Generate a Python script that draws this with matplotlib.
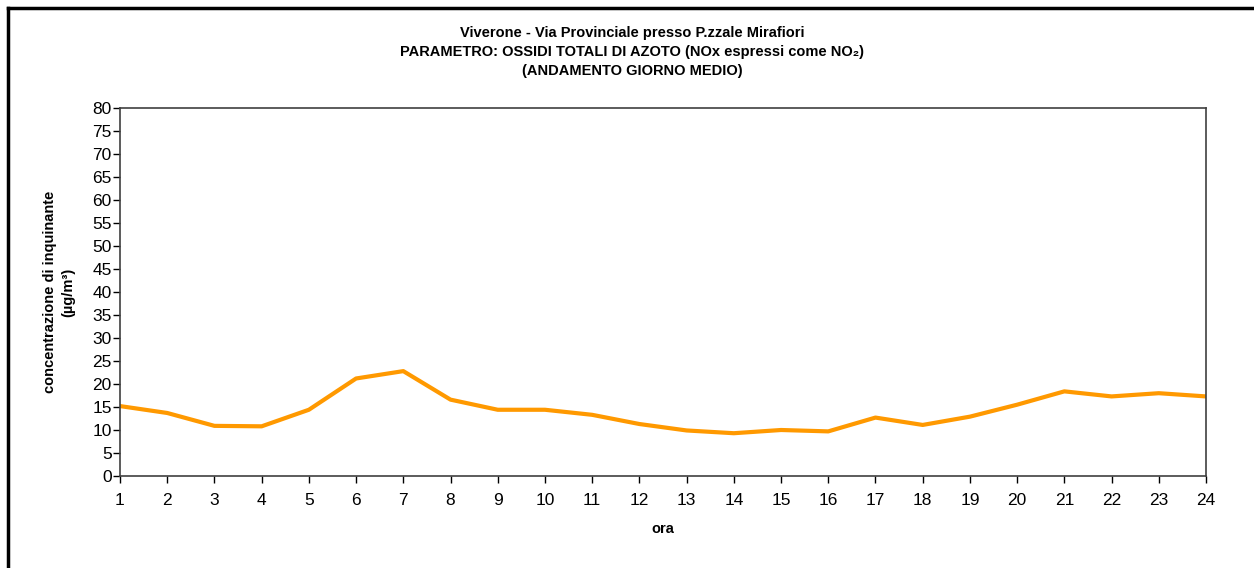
import numpy as np
import matplotlib
matplotlib.use("Agg")
import matplotlib.pyplot as plt
from matplotlib.lines import Line2D

plt.rcParams['font.family'] = ['Liberation Sans', 'DejaVu Sans']

# mean daily profile, NOx (µg/m³)
ore = list(range(1, 25))
nox = [15.2, 13.7, 10.9, 10.8, 14.4, 21.2, 22.8, 16.6, 14.4, 14.4, 13.3, 11.3,
       9.9, 9.3, 10.0, 9.7, 12.7, 11.1, 12.9, 15.5, 18.4, 17.3, 18.0, 17.3]
y_ticks = list(range(0, 81, 5))

titolo = ("Viverone - Via Provinciale presso P.zzale Mirafiori\n"
          "PARAMETRO: OSSIDI TOTALI DI AZOTO (NOx espressi come NO\u2082)\n"
          "(ANDAMENTO GIORNO MEDIO)")

W, H = 1254, 568
fig = plt.figure(figsize=(W / 100, H / 100), dpi=100)
ax = fig.add_axes([120 / W, 1 - 476 / H, (1206 - 120) / W, (476 - 108) / H])

ax.plot(ore, nox, color='#FF9900', lw=3.0, solid_joinstyle='round')

ax.set_xlim(1, 24)
ax.set_ylim(0, 80)
ax.set_xticks(ore)
ax.set_yticks(y_ticks)
ax.tick_params(direction='out', length=5, width=1, labelsize=12.5, colors='black')
ax.tick_params(axis='x', pad=7)
ax.tick_params(axis='y', pad=1)
for s in ax.spines.values():
    s.set_color('#404040')
    s.set_linewidth(1.2)

ax.set_xlabel('ora', fontsize=10.5, fontweight='bold', labelpad=10)
ax.set_ylabel('concentrazione di inquinante\n(\u00b5g/m\u00b3)', fontsize=10.5,
              fontweight='bold', labelpad=12, linespacing=1.45)

fig.text(632 / W, 1 - 52 / H, titolo, ha='center', va='center', fontsize=10.5,
         fontweight='bold', linespacing=1.45)

# outer frame of the chart (left and top edges visible)
fig.add_artist(Line2D([8 / W, 8 / W], [0, 1 - 8 / H], transform=fig.transFigure,
                      color='black', lw=2.5))
fig.add_artist(Line2D([8 / W, 1], [1 - 8 / H, 1 - 8 / H], transform=fig.transFigure,
                      color='black', lw=2.5))

fig.savefig('out.png', dpi=100)
